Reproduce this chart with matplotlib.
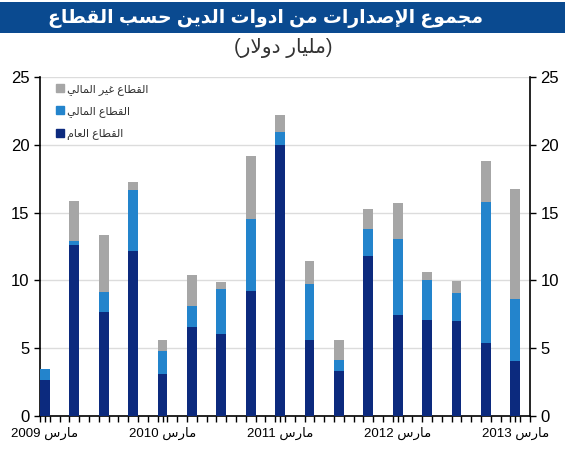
import numpy as np
import matplotlib
matplotlib.use("Agg")
import matplotlib.pyplot as plt
from matplotlib.patches import Patch, Rectangle

plt.rcParams['font.family'] = ['Liberation Sans', 'DejaVu Sans']

# Arabic contextual forms (isolated, final, initial, medial) - matplotlib does no shaping itself
FORMS = {
    'ا': (0xFE8D, 0xFE8E, None, None), 'إ': (0xFE87, 0xFE88, None, None),
    'د': (0xFEA9, 0xFEAA, None, None), 'ر': (0xFEAD, 0xFEAE, None, None),
    'و': (0xFEED, 0xFEEE, None, None),
    'ب': (0xFE8F, 0xFE90, 0xFE91, 0xFE92), 'ت': (0xFE95, 0xFE96, 0xFE97, 0xFE98),
    'ج': (0xFE9D, 0xFE9E, 0xFE9F, 0xFEA0), 'ح': (0xFEA1, 0xFEA2, 0xFEA3, 0xFEA4),
    'س': (0xFEB1, 0xFEB2, 0xFEB3, 0xFEB4), 'ص': (0xFEB9, 0xFEBA, 0xFEBB, 0xFEBC),
    'ط': (0xFEC1, 0xFEC2, 0xFEC3, 0xFEC4), 'ع': (0xFEC9, 0xFECA, 0xFECB, 0xFECC),
    'غ': (0xFECD, 0xFECE, 0xFECF, 0xFED0), 'ق': (0xFED5, 0xFED6, 0xFED7, 0xFED8),
    'ل': (0xFEDD, 0xFEDE, 0xFEDF, 0xFEE0), 'م': (0xFEE1, 0xFEE2, 0xFEE3, 0xFEE4),
    'ن': (0xFEE5, 0xFEE6, 0xFEE7, 0xFEE8), 'ي': (0xFEF1, 0xFEF2, 0xFEF3, 0xFEF4),
}
LAM_ALEF = {'ا': (0xFEFB, 0xFEFC), 'إ': (0xFEF9, 0xFEFA)}


def ar(s):
    def dual(c):
        return c in FORMS and FORMS[c][2] is not None
    out = []
    i = 0
    while i < len(s):
        c = s[i]
        if c not in FORMS:
            out.append(c)
            i += 1
            continue
        link_prev = i > 0 and dual(s[i - 1])
        if c == 'ل' and i + 1 < len(s) and s[i + 1] in LAM_ALEF:
            iso, fin = LAM_ALEF[s[i + 1]]
            out.append(chr(fin if link_prev else iso))
            i += 2
            continue
        link_next = dual(c) and i + 1 < len(s) and s[i + 1] in FORMS
        iso, fin, ini, med = FORMS[c]
        if link_prev and link_next:
            f = med
        elif link_prev:
            f = fin
        elif link_next:
            f = ini
        else:
            f = iso
        out.append(chr(f))
        i += 1
    return ''.join(reversed(out))


# data (billion USD), quarterly Mar 2009 .. Mar 2013
public = [2.65, 12.64, 7.69, 12.14, 3.10, 6.53, 6.06, 9.19, 19.95, 5.62, 3.35, 11.78, 7.44, 7.10, 6.97, 5.37, 4.07]
financial = [0.79, 0.24, 1.42, 4.56, 1.73, 1.55, 3.30, 5.35, 0.99, 4.11, 0.79, 2.02, 5.62, 2.95, 2.10, 10.40, 4.55]
nonfinancial = [0.00, 2.95, 4.22, 0.54, 0.74, 2.32, 0.49, 4.62, 1.23, 1.72, 1.48, 1.48, 2.66, 0.59, 0.91, 3.03, 8.13]
years = ['2009', '2010', '2011', '2012', '2013']

title = 'مجموع الإصدارات من ادوات الدين حسب القطاع'
subtitle = 'مليار دولار'
lbl_public = 'القطاع العام'
lbl_fin = 'القطاع المالي'
lbl_nonfin = 'القطاع غير المالي'
march = 'مارس'

c_pub = '#0c2a7e'
c_fin = '#2384cc'
c_non = '#a6a6a6'

public = np.array(public)
financial = np.array(financial)
nonfinancial = np.array(nonfinancial)
x = np.arange(len(public)) * 3 + 0.5  # month position of each quarter

fig = plt.figure(figsize=(5.65, 4.5), dpi=100)
fig.patches.append(Rectangle((0, 1 - 33 / 450), 1, 31 / 450, transform=fig.transFigure,
                             facecolor='#0a4a90', edgecolor='none'))
fig.text(266 / 565, 1 - 19 / 450, ar(title), color='white', fontsize=13.5, fontweight='bold',
         ha='center', va='center')
fig.text(283 / 565, 1 - 48 / 450, '(' + ar(subtitle) + ')', color='#333333', fontsize=14.5,
         ha='center', va='center')

ax = fig.add_axes([40 / 565, 1 - 416 / 450, 490 / 565, 339 / 450])
ax.bar(x, public, width=1.0, color=c_pub, zorder=3)
ax.bar(x, financial, width=1.0, bottom=public, color=c_fin, zorder=3)
ax.bar(x, nonfinancial, width=1.0, bottom=public + financial, color=c_non, zorder=3)

ax.set_xlim(0, 50)
ax.set_ylim(0, 25)
ax.set_yticks(np.arange(0, 26, 5))
ax.yaxis.grid(True, color='#dcdcdc', linewidth=1.0, zorder=0)
ax.set_xticks(np.arange(0, 51, 1), minor=True)
ax.set_xticks(x[::4])
ax.set_xticklabels([y + ' ' + ar(march) for y in years])
ax.tick_params(axis='x', which='both', length=4, width=1, direction='out', color='black')
ax.tick_params(axis='x', labelsize=9.5, pad=4)
ax.tick_params(axis='y', which='both', left=True, right=True, labelleft=True, labelright=True,
               length=4, width=1, labelsize=12, color='black')
for s in ['left', 'right', 'bottom']:
    ax.spines[s].set_linewidth(1.2)
ax.spines['top'].set_visible(False)

handles = [Patch(color=c_non, label=ar(lbl_nonfin)),
           Patch(color=c_fin, label=ar(lbl_fin)),
           Patch(color=c_pub, label=ar(lbl_public))]
leg = ax.legend(handles=handles, loc='upper left', bbox_to_anchor=(0.012, 1.01), frameon=False,
                fontsize=8, handlelength=0.7, handleheight=0.7, handletextpad=0.3, labelspacing=1.05)
for t in leg.get_texts():
    t.set_color('#333333')

fig.savefig('out.png', dpi=100)
